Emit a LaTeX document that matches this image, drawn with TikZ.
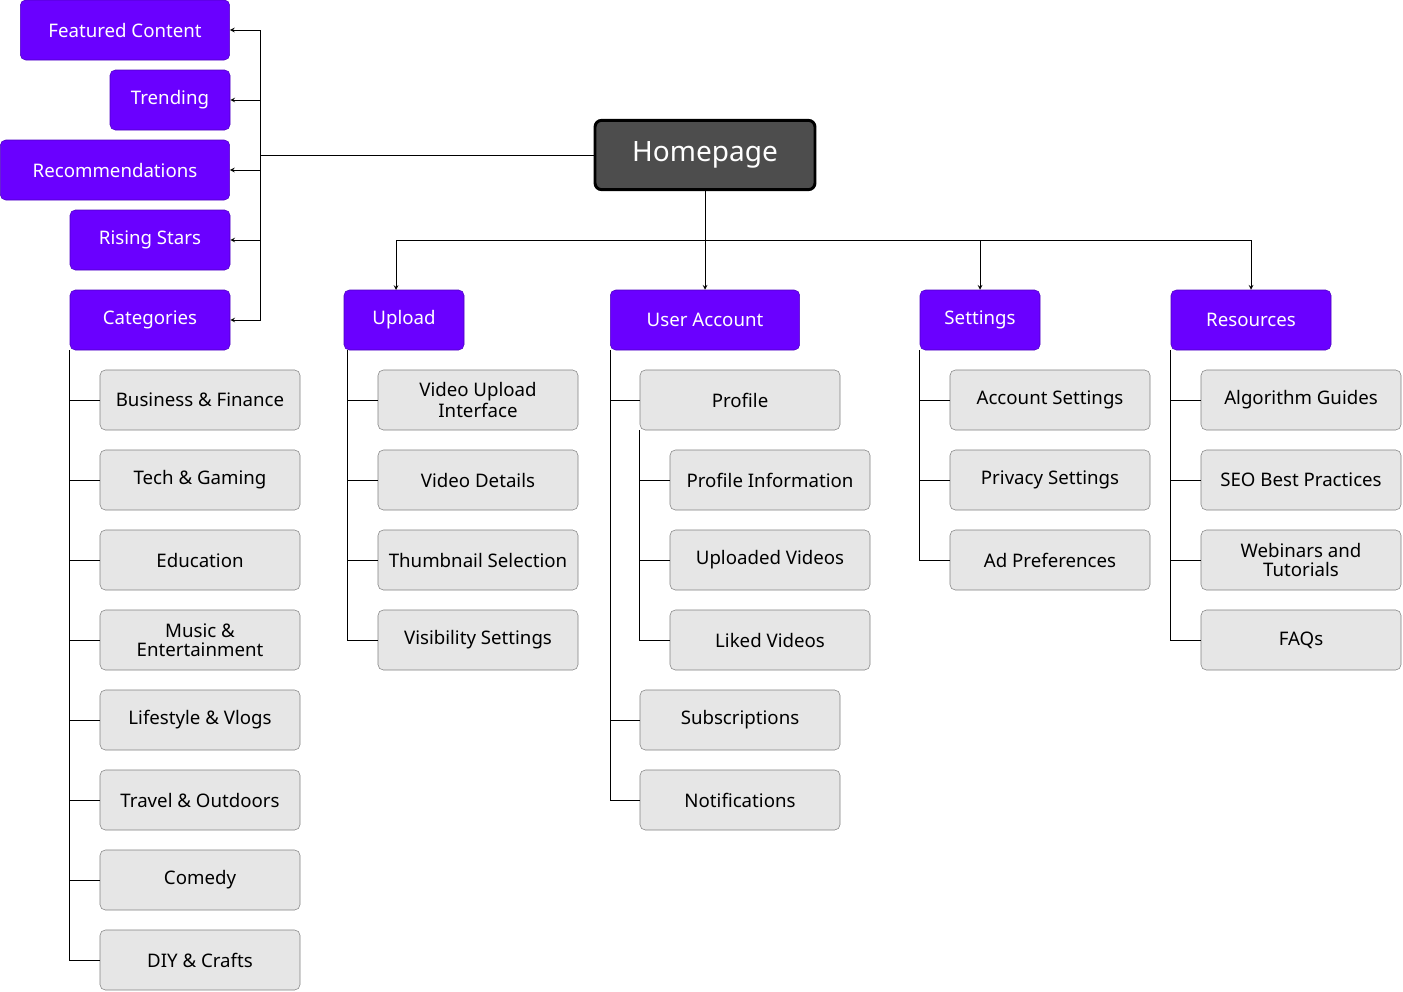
\documentclass[tikz,border=0pt]{standalone}
\usepackage{fontspec}
\setmainfont{Noto Sans}
\definecolor{purp}{HTML}{6A00FF}
\definecolor{purpdark}{HTML}{4B00C0}
\definecolor{leafgray}{HTML}{E6E6E6}
\definecolor{homegray}{HTML}{4D4D4D}
\tikzset{
  home/.style={draw=black,line width=2.2pt,fill=homegray,rounded corners=5pt,text=white,font=\fontsize{21}{24}\selectfont\bfseries,minimum width=165pt,minimum height=52pt},
  sect/.style={draw=purpdark,fill=purp,rounded corners=4pt,text=white,font=\fontsize{14}{16}\selectfont\bfseries,minimum height=45pt,inner sep=2pt},
  leaf/.style={draw=gray,fill=leafgray,rounded corners=4pt,font=\fontsize{14}{14}\selectfont,minimum width=150pt,minimum height=45pt,align=center,inner sep=1pt},
  link/.style={-stealth,line width=0.6pt},
  line/.style={line width=0.6pt}
}
\begin{document}
\begin{tikzpicture}[x=0.75pt,y=-0.75pt]
\useasboundingbox (0,0) rectangle (1403,992);
% top node
\node[home] (homepage) at (705,155) {Homepage};
% left column
\node[sect,minimum width=157pt] (featured) at (125,30) {Featured Content};
\node[sect,minimum width=90pt] (trending) at (170,100) {Trending};
\node[sect,minimum width=172pt] (recomm) at (115,170) {Recommendations};
\node[sect,minimum width=120pt] (rising) at (150,240) {Rising Stars};
\node[sect,minimum width=120pt] (categories) at (150,320) {Categories};
% second row
\node[sect,minimum width=90pt] (upload) at (404,320) {Upload};
\node[sect,minimum width=142pt] (account) at (705,320) {User Account};
\node[sect,minimum width=90pt] (settings) at (980,320) {Settings};
\node[sect,minimum width=120pt] (resources) at (1251,320) {Resources};
% connectors to the left column
\coordinate (lbus) at (260,155);
\draw[line] (homepage.west) -- (lbus);
\foreach \n in {featured,trending,recomm,rising,categories}
  \draw[link] (lbus) |- (\n.east);
% connectors to the second row
\coordinate (dbus) at (705,240);
\draw[line] (homepage.south) -- (dbus);
\draw[line] (396,240) -- (1251,240);
\draw[link] (396,240) -- (396,290);
\draw[link] (dbus) -- (account.north);
\draw[link] (980,240) -- (settings.north);
\draw[link] (1251,240) -- (resources.north);
% categories
\foreach \t [count=\i] in {Business \& Finance,Tech \& Gaming,Education,Music \&\\Entertainment,Lifestyle \& Vlogs,Travel \& Outdoors,Comedy,DIY \& Crafts}{
  \node[leaf] (cat\i) at (200,320+80*\i) {\t};
  \draw[line] (categories.south west) |- (cat\i.west);
}
% upload
\foreach \t [count=\i] in {Video Upload\\Interface,Video Details,Thumbnail Selection,Visibility Settings}{
  \node[leaf] (upl\i) at (478,320+80*\i) {\t};
  \draw[line] ([xshift=3pt]upload.south west) |- (upl\i.west);
}
% user account
\node[leaf] (profile) at (740,400) {Profile};
\node[leaf] (subs) at (740,720) {Subscriptions};
\node[leaf] (notif) at (740,800) {Notifications};
\foreach \n in {profile,subs,notif}
  \draw[line] (account.south west) |- (\n.west);
\foreach \t [count=\i] in {Profile Information,Uploaded Videos,Liked Videos}{
  \node[leaf] (prof\i) at (770,400+80*\i) {\t};
  \draw[line] (profile.south west) |- (prof\i.west);
}
% settings
\foreach \t [count=\i] in {Account Settings,Privacy Settings,Ad Preferences}{
  \node[leaf] (set\i) at (1050,320+80*\i) {\t};
  \draw[line] (settings.south west) |- (set\i.west);
}
% resources
\foreach \t [count=\i] in {Algorithm Guides,SEO Best Practices,Webinars and\\Tutorials,FAQs}{
  \node[leaf] (res\i) at (1301,320+80*\i) {\t};
  \draw[line] (resources.south west) |- (res\i.west);
}
\end{tikzpicture}
\end{document}
